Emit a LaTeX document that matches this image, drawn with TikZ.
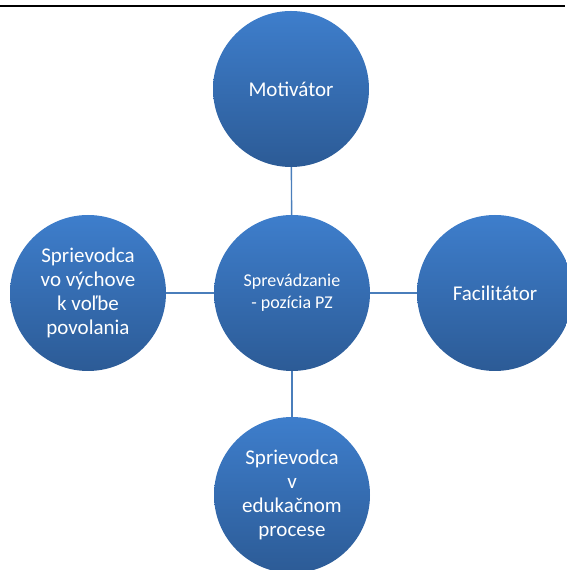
\documentclass[tikz,border=0pt]{standalone}
\usepackage{fontspec}
\setmainfont{Carlito}
\usepackage{tikz}

\definecolor{balltop}{RGB}{62,126,204}
\definecolor{ballbottom}{RGB}{44,91,150}
\definecolor{linkblue}{RGB}{74,126,187}

\begin{document}
\begin{tikzpicture}[x = 1pt, y = 1pt,
		ball/.style = {circle, minimum size = 156pt, inner sep = 0pt,
			top color = balltop, bottom color = ballbottom,
			text = white, align = center, font = \fontsize{21}{24}\selectfont},
		hub/.style = {ball, font = \fontsize{18}{22}\selectfont},
		link/.style = {draw = linkblue, line width = 1.4pt}]
	\useasboundingbox (0,0) rectangle (567,570);
	\clip (0,0) rectangle (567,570);

	\draw [line width = 2.4pt] (0,564) -- (565,564);

	\node [hub] (pz) at (292,277) {Sprevádzanie\\- pozícia PZ};
	\node [ball] (mot) at (291,481) {Motivátor};
	\node [ball] (fac) at (495,277) {Facilitátor};
	\node [ball] (vych) at (88,277) {Sprievodca\\vo výchove\\k voľbe\\povolania};
	\node [ball] (edu) at (292,75) {Sprievodca\\v\\edukačnom\\procese};

	\begin{scope}[link]
		\draw (pz) -- (mot);
		\draw (pz) -- (fac);
		\draw (pz) -- (vych);
		\draw (pz) -- (edu);
	\end{scope}
\end{tikzpicture}
\end{document}
